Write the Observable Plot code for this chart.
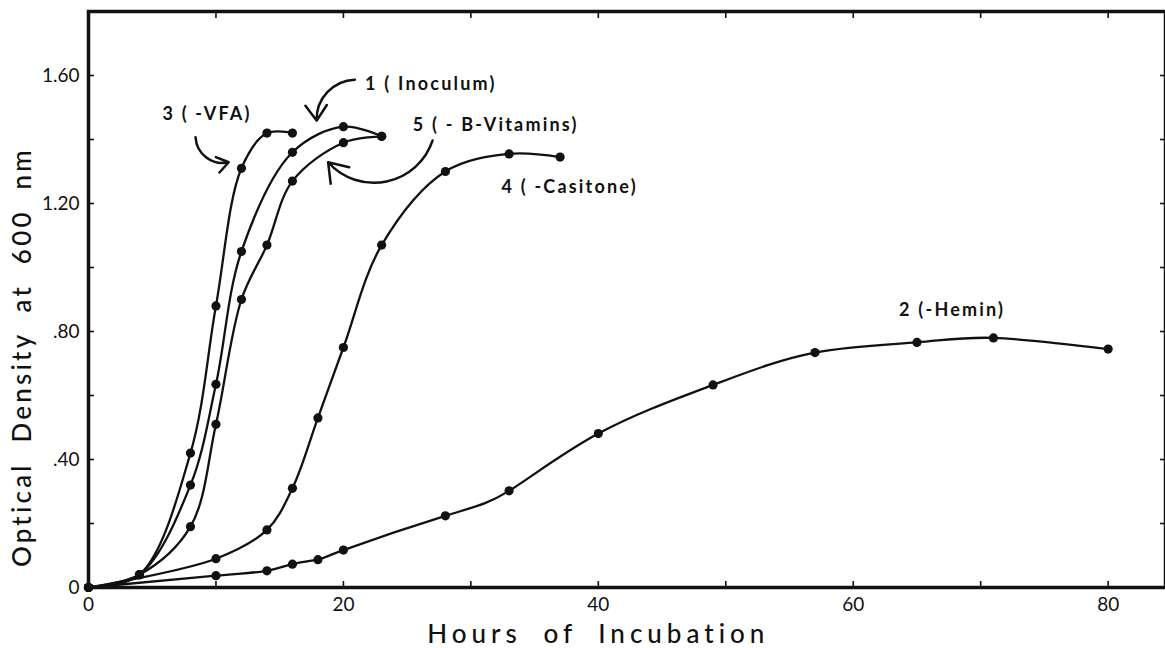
<!DOCTYPE html>
<html>
<head>
<meta charset="utf-8">
<script src="https://cdn.jsdelivr.net/npm/d3@7"></script>
<script src="https://cdn.jsdelivr.net/npm/@observablehq/plot@0.6"></script>
<style>
  html, body { margin: 0; padding: 0; background: #fff; }
  svg { display: block; }
</style>
</head>
<body>
<div id="chart"></div>
<script>
// ---- Data ----
const inoculumHours = [0, 4, 8, 10, 12, 16, 20, 23];
const inoculumOD    = [0, 0.04, 0.32, 0.635, 1.05, 1.36, 1.44, 1.41];

const heminHours = [0, 10, 14, 16, 18, 20, 28, 33, 40, 49, 57, 65, 71, 80];
const heminOD    = [0, 0.037, 0.052, 0.073, 0.087, 0.117, 0.224, 0.302, 0.481, 0.633, 0.734, 0.766, 0.78, 0.745];

const vfaHours = [0, 4, 8, 10, 12, 14, 16];
const vfaOD    = [0, 0.04, 0.42, 0.88, 1.31, 1.42, 1.42];

const casitoneHours = [0, 10, 14, 16, 18, 20, 23, 28, 33, 37];
const casitoneOD    = [0, 0.09, 0.18, 0.31, 0.53, 0.75, 1.07, 1.30, 1.355, 1.345];

const vitaminHours = [0, 4, 8, 10, 12, 14, 16, 20, 23];
const vitaminOD    = [0, 0.04, 0.19, 0.51, 0.90, 1.07, 1.27, 1.39, 1.41];

const seriesNames = ["1 ( Inoculum)", "2 (-Hemin)", "3 ( -VFA)", "4 ( -Casitone)", "5 ( - B-Vitamins)"];

// label anchors (hours, OD)
const labelHours = [21.7, 63.6, 5.8, 32.4, 25.45];
const labelOD    = [1.574, 0.866, 1.48, 1.251, 1.444];

// annotation arrows: start -> end (hours, OD), bend angle
const arrowFromHours = [20.9, 8.4, 27.0];
const arrowFromOD    = [1.587, 1.407, 1.397];
const arrowToHours   = [17.9, 11.0, 18.8];
const arrowToOD      = [1.459, 1.329, 1.329];
const arrowBend      = [-45, -50, 60];

// axes
const xTicksMajor = [0, 20, 40, 60, 80];
const xTicksAll   = [0, 10, 20, 30, 40, 50, 60, 70, 80];
const yTicksMajor = [0, 0.4, 0.8, 1.2, 1.6];
const yTickLabels = ["0", ".40", ".80", "1.20", "1.60"];
const yTicksAll   = [0, 0.2, 0.4, 0.6, 0.8, 1.0, 1.2, 1.4, 1.6];

const xTitle = "Hours of Incubation";
const yTitle = "Optical Density at 600 nm";

// ---- Build tables ----
const seriesHours = [inoculumHours, heminHours, vfaHours, casitoneHours, vitaminHours];
const seriesOD = [inoculumOD, heminOD, vfaOD, casitoneOD, vitaminOD];
const points = [];
seriesNames.forEach((name, i) => {
  seriesHours[i].forEach((h, j) => points.push({series: name, hours: h, od: seriesOD[i][j]}));
});
const labels = seriesNames.map((name, i) => ({name, hours: labelHours[i], od: labelOD[i]}));
const arrows = arrowFromHours.map((_, i) => ({
  x1: arrowFromHours[i], y1: arrowFromOD[i], x2: arrowToHours[i], y2: arrowToOD[i], bend: arrowBend[i]
}));

const font = "Lato, 'DejaVu Sans', sans-serif";

const chart = Plot.plot({
  width: 1165,
  height: 648,
  marginLeft: 88,
  marginRight: 0,
  marginTop: 11,
  marginBottom: 61,
  style: {fontFamily: font, color: "#111", background: "#fff"},
  x: {domain: [0, 84.5]},
  y: {domain: [0, 1.8]},
  marks: [
    Plot.frame({stroke: "#111", strokeWidth: 3.5}),
    // inward ticks
    Plot.axisX({ticks: xTicksAll, tickSize: -6, tickFormat: () => "", strokeWidth: 1.6, label: null}),
    Plot.axisX({anchor: "top", ticks: xTicksAll, tickSize: -6, tickFormat: () => "", strokeWidth: 1.6, label: null}),
    Plot.axisY({ticks: yTicksAll, tickSize: -6, tickFormat: () => "", strokeWidth: 1.6, label: null}),
    Plot.axisY({anchor: "right", ticks: yTicksAll, tickSize: -6, tickFormat: () => "", strokeWidth: 1.6, label: null}),
    // tick labels
    Plot.axisX({ticks: xTicksMajor, tickSize: 0, tickPadding: 10, fontSize: 19, label: null}),
    Plot.axisY({ticks: yTicksMajor, tickSize: 0, tickPadding: 9, fontSize: 19, label: null,
      tickFormat: d => yTickLabels[yTicksMajor.indexOf(d)]}),
    // axis titles
    Plot.text([xTitle], {x: 40, frameAnchor: "bottom", dy: 47, text: d => d, fontSize: 26,
      textAnchor: "middle", lineAnchor: "middle", fill: "#111", fontWeight: 500}),
    Plot.text([yTitle], {y: 0.72, frameAnchor: "left", dx: -66, rotate: -90, text: d => d,
      fontSize: 26, textAnchor: "middle", lineAnchor: "middle", fill: "#111", fontWeight: 500}),
    // curves
    Plot.line(points, {filter: d => d.series !== seriesNames[1], x: "hours", y: "od", z: "series",
      curve: "catmull-rom", stroke: "#111", strokeWidth: 2.3}),
    Plot.line(points, {filter: d => d.series === seriesNames[1], x: "hours", y: "od",
      curve: "natural", stroke: "#111", strokeWidth: 2.3}),
    Plot.dot(points, {x: "hours", y: "od", r: 4.6, fill: "#111"}),
    // annotations
    Plot.text(labels, {x: "hours", y: "od", text: "name", textAnchor: "start",
      fontSize: 18, fontWeight: "bold", fill: "#111"}),
    ...arrows.map(a => Plot.arrow([a], {x1: "x1", y1: "y1", x2: "x2", y2: "y2", bend: a.bend,
      stroke: "#111", strokeWidth: 2.5, headLength: 13, headAngle: 70}))
  ]
});

// letter / word spacing for the wide lettering of the original
const sel = d3.select(chart);
sel.selectAll("text").each(function () {
  const t = this.textContent;
  if (t === xTitle) this.setAttribute("style", "letter-spacing:5px;word-spacing:10px");
  else if (t === yTitle) this.setAttribute("style", "letter-spacing:3.2px;word-spacing:10px");
  else if (seriesNames.includes(t)) this.setAttribute("style", "letter-spacing:2.2px");
});
document.getElementById("chart").appendChild(chart);
</script>
</body>
</html>
